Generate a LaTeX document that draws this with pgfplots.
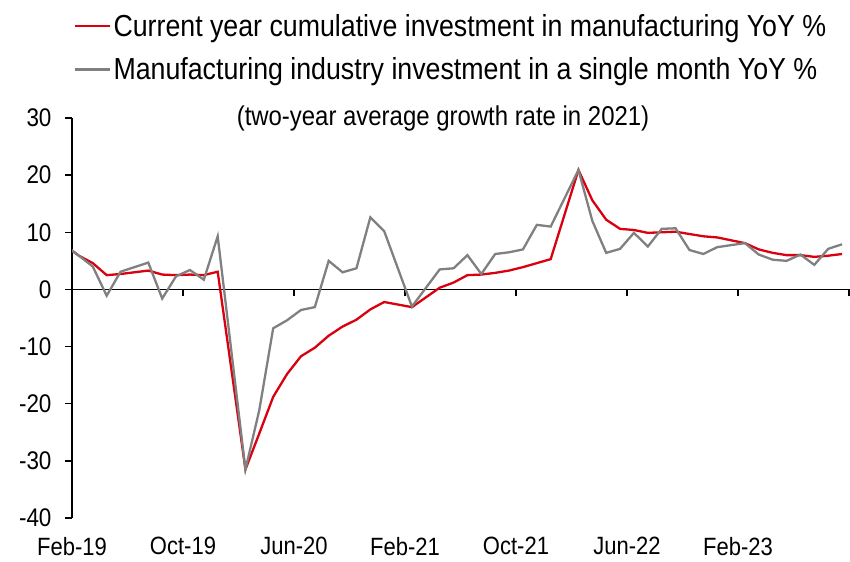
\documentclass[border=0pt]{standalone}
\usepackage{fontspec}
\setmainfont{Liberation Sans}[FakeStretch=0.88]
\usepackage{pgfplots}
\pgfplotsset{compat=1.18}

\definecolor{cumred}{HTML}{D9000F}
\definecolor{mgray}{HTML}{808080}

% month index: 0 = Feb-19 ; January values are not published
\pgfplotstableread{
x    y
-2   9.5
0    5.9
1    4.6
2    2.5
3    2.7
4    3.0
5    3.3
6    2.6
7    2.5
8    2.6
9    2.5
10   3.1
12  -31.5
13  -25.2
14  -18.8
15  -14.8
16  -11.7
17  -10.2
18   -8.1
19   -6.5
20   -5.3
21   -3.5
22   -2.2
24   -3.1
26    0.3
27    1.2
28    2.5
29    2.6
30    2.9
31    3.3
32    3.9
33    4.6
34    5.3
36   20.9
37   15.6
38   12.2
39   10.6
40   10.4
41    9.9
42   10.0
43   10.1
44    9.7
45    9.3
46    9.1
48    8.1
49    7.0
50    6.4
51    6.0
52    6.0
53    5.7
54    5.9
55    6.2
}\cumdata

\pgfplotstableread{
x    y
-2   9.5
0    5.9
1    4.0
2   -1.1
3    3.1
4    3.9
5    4.7
6   -1.6
7    2.3
8    3.4
9    1.7
10   9.3
12  -31.5
13  -21.1
14   -6.8
15   -5.4
16   -3.6
17   -3.1
18    5.0
19    3.0
20    3.7
21   12.6
22   10.2
24   -3.0
26    3.5
27    3.7
28    6.0
29    2.7
30    6.2
31    6.5
32    7.0
33   11.3
34   11.0
36   20.9
37   12.0
38    6.4
39    7.1
40    9.9
41    7.5
42   10.6
43   10.7
44    6.9
45    6.2
46    7.4
48    8.1
49    6.1
50    5.2
51    5.0
52    6.1
53    4.3
54    7.1
55    7.9
}\monthdata

\begin{document}
\begin{tikzpicture}
\useasboundingbox (0,0) rectangle (850bp,562bp);
\begin{axis}[
    at={(72bp,44bp)}, anchor=south west,
    scale only axis,
    width=777bp, height=400bp,
    xmin=-0.5, xmax=55.5,
    ymin=-40, ymax=30,
    axis x line=middle,
    axis y line=left,
    hide obscured x ticks=false,
    axis line style={-, black, line width=1.4bp},
    tick style={black, line width=1.4bp},
    major tick length=7bp,
    tick align=outside,
    xtick={-0.5,7.5,15.5,23.5,31.5,39.5,47.5},
    xticklabels={Feb-19,Oct-19,Jun-20,Feb-21,Oct-21,Jun-22,Feb-23},
    extra x ticks={55.5},
    extra x tick labels={},
    ytick={-40,-30,...,30},
    xticklabel style={anchor=north, yshift=-237bp, font=\fontsize{25bp}{28bp}\selectfont},
    yticklabel style={xshift=-10bp, font=\fontsize{25.5bp}{28bp}\selectfont},
    /pgf/number format/assume math mode=true,
    legend cell align=left,
    legend image code/.code={\draw[#1] (0bp,0bp) -- (35bp,0bp);},
    legend style={at={(0,1)}, anchor=north west, xshift=2bp, yshift=106bp,
        draw=none, fill=none, inner sep=0pt, row sep=16bp,
        font=\fontsize{30.4bp}{34bp}\selectfont,
        nodes={inner sep=2bp}},
    clip=true,
]
\addplot[cumred, line width=2.3bp, mark=none] table[x=x, y=y] {\cumdata};
\addlegendentry{Current year cumulative investment in manufacturing YoY \%}
\addplot[mgray, line width=2.3bp, mark=none] table[x=x, y=y] {\monthdata};
\addlegendentry{Manufacturing industry investment in a single month YoY \%}
\end{axis}
\node[font=\fontsize{27.2bp}{30bp}\selectfont] at (443bp,444bp) {(two-year average growth rate in 2021)};
\end{tikzpicture}
\end{document}
